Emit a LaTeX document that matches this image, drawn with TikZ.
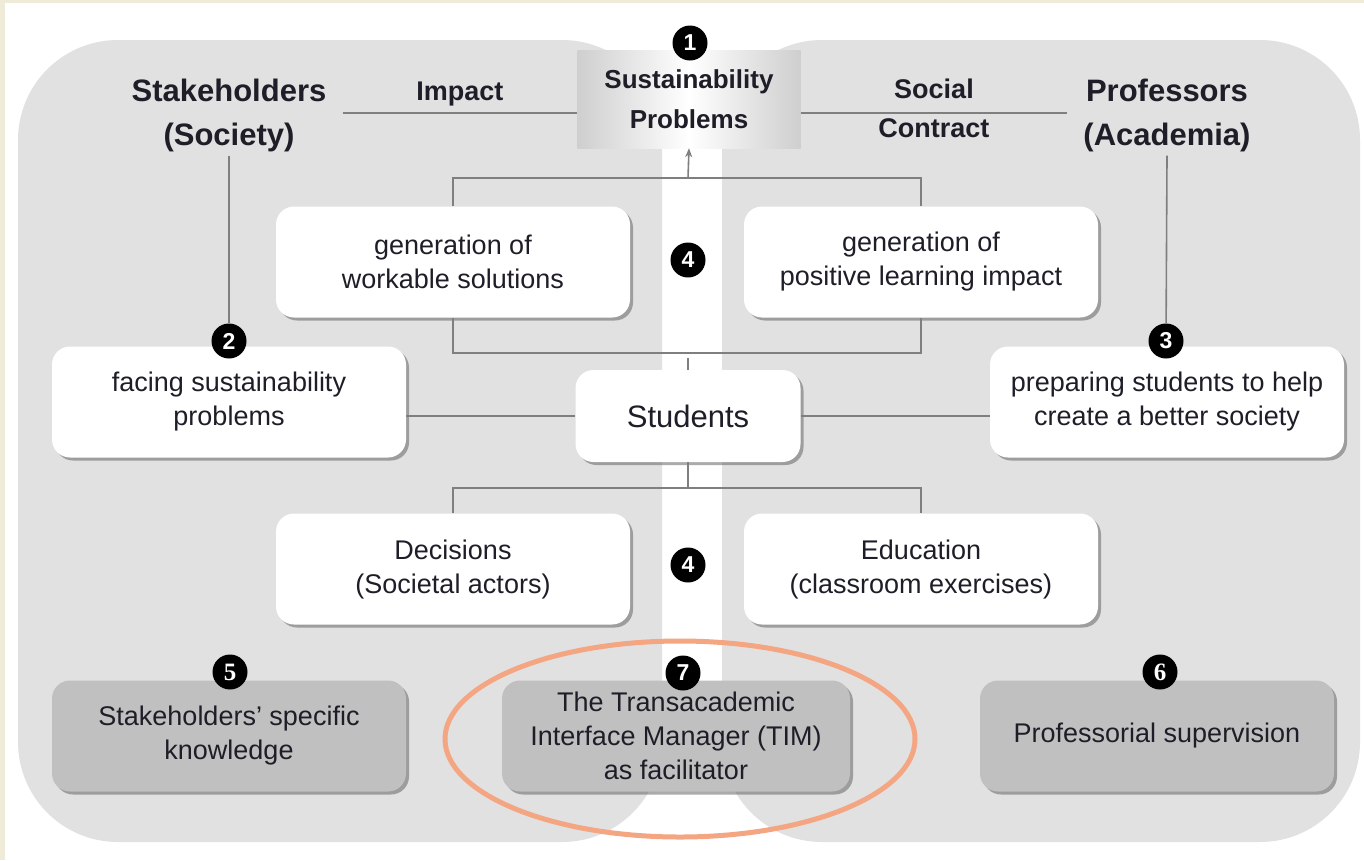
\documentclass[tikz,border=0pt]{standalone}
\usepackage{fontspec}
\setmainfont{Liberation Sans}
\newfontfamily\serifb{Liberation Serif}
\usetikzlibrary{shadows,arrows.meta}
\definecolor{cream}{HTML}{EEEBD8}
\definecolor{panel}{HTML}{E1E1E1}
\definecolor{gboxc}{HTML}{C0C0C0}
\definecolor{connc}{HTML}{7F7F7F}
\definecolor{salmon}{HTML}{F4A582}
\definecolor{ink}{HTML}{1E1E28}
\begin{document}
\begin{tikzpicture}[x=1pt,y=-1pt,
  every node/.style={text=ink},
  boxbase/.style={rounded corners=18pt, minimum width=354pt, minimum height=111pt, align=center, inner sep=0pt,
    font=\fontsize{27}{34}\selectfont,
    drop shadow={shadow xshift=3pt, shadow yshift=-3pt, fill=black!60, opacity=0.55}},
  wbox/.style={boxbase, fill=white},
  gbox/.style={boxbase, fill=gboxc},
  badge/.style={circle, fill=black, text=white, minimum size=35pt, inner sep=0pt, font=\fontsize{23}{23}\selectfont\bfseries},
  sbadge/.style={badge, font=\serifb\fontsize{25}{25}\selectfont\bfseries},
  connector/.style={draw=connc, line width=1.6pt},
  head/.style={align=center, inner xsep=16pt, inner ysep=4pt, font=\fontsize{31}{44}\selectfont\bfseries},
  lbl/.style={font=\fontsize{27}{30}\selectfont\bfseries, inner sep=3pt, text height=20pt, text depth=6pt}
]
\useasboundingbox (0,0) rectangle (1364,860);
\fill[cream] (0,0) rectangle (1364,860);
\fill[white] (5,3) rectangle (1364,860);
\fill[panel, rounded corners=100pt] (18,40) rectangle (662,842);
\fill[panel, rounded corners=100pt] (722,40) rectangle (1360,842);

% top
\node[left color=gray!38, right color=gray!38, middle color=white, minimum width=223pt, minimum height=98pt,
  inner sep=0pt, align=center, font=\fontsize{26}{40}\selectfont\bfseries] (sp) at (689,99) {Sustainability\\Problems};
\node[head] (stk) at (229,115) {Stakeholders\\(Society)};
\node[head] (prof) at (1167,115) {Professors\\(Academia)};

% boxes
\node[wbox] (gws) at (453,262) {generation of\\workable solutions};
\node[wbox] (gpl) at (921,262) {generation of\\positive learning impact};
\node[wbox] (fsp) at (229,402) {facing sustainability\\problems};
\node[wbox, minimum width=225pt, minimum height=92pt, font=\fontsize{31}{36}\selectfont] (stud) at (688,416) {Students};
\node[wbox] (prep) at (1167,402) {preparing students to help\\create a better society};
\node[wbox] (dec) at (453,569) {Decisions\\(Societal actors)};
\node[wbox] (edu) at (921,569) {Education\\(classroom exercises)};
\node[gbox] (skn) at (229,736) {Stakeholders’ specific\\knowledge};
\node[gbox, minimum width=348pt] (tim) at (676,736) {The Transacademic\\Interface Manager (TIM)\\as facilitator};
\node[gbox] (psv) at (1157,736) {Professorial supervision};

% connectors
\coordinate (topbar) at (688,178);
\coordinate (midbar) at (688,353);
\coordinate (lowbar) at (688,488);
\draw[connector] (stk.east |- 0,113) -- node[lbl, above=3pt]{Impact} (sp.west |- 0,113);
\draw[connector] (sp.east |- 0,113) -- node[lbl, above=5pt]{Social} node[lbl, below=1pt]{Contract} (prof.west |- 0,113);
\draw[connector] (gws.north) |- (topbar) -| (gpl.north);
\draw[connector, -{Stealth[length=9pt,width=7pt]}] (topbar) -- (sp.south);
\draw[connector] (gws.south) |- (midbar) -| (gpl.south);
\draw[connector] (stud.north) -- ++(0,-12);
\draw[connector] (fsp.east |- stud.west) -- (stud.west);
\draw[connector] (stud.east) -- (prep.west |- stud.east);
\draw[connector] (stud.south) -- (lowbar);
\draw[connector] (dec.north) |- (lowbar) -| (edu.north);

% badges
\node[badge] (b1) at (690,43) {1};
\node[badge] (b2) at (229,341) {2};
\node[badge] (b3) at (1166,341) {3};
\node[badge] (b4a) at (688,260) {4};
\node[badge] (b4b) at (688,565) {4};
\node[sbadge] (b5) at (230,672) {5};
\node[sbadge] (b6) at (1160,672) {6};
\node[badge] (b7) at (683,673) {7};
\draw[connector] (stk.south) -- (b2);
\draw[connector] (prof.south) -- (b3);

% highlight
\draw[salmon, line width=5pt] (680,739) ellipse [x radius=235, y radius=98];
\end{tikzpicture}
\end{document}
